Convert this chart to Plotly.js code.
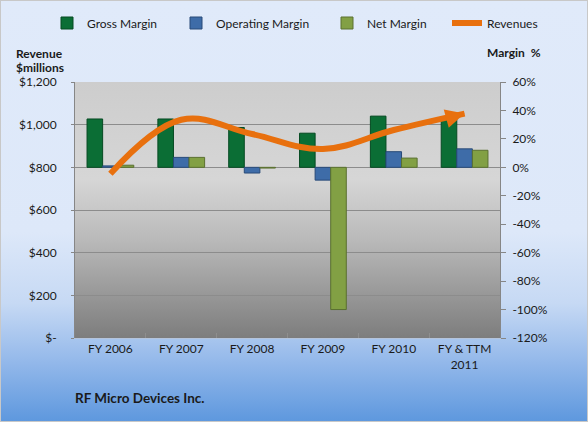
<!DOCTYPE html>
<html>
<head>
<meta charset="utf-8">
<script src="https://cdn.plot.ly/plotly-3.0.1.min.js"></script>
<style>
  html, body { margin: 0; padding: 0; }
  #chart {
    width: 588px; height: 422px; box-sizing: border-box;
    border: 1px solid #c8c8c8;
    background: linear-gradient(to bottom, #e0eafa 0%, #dde8f9 55%, #c6d9f4 72%, #93b8ea 86%, #5e98de 100%);
  }
</style>
</head>
<body>
<div id="chart"></div>
<script>
// ---- data ----
const categories = ["FY 2006", "FY 2007", "FY 2008", "FY 2009", "FY 2010", "FY & TTM<br>2011"];
const grossMargin = [34, 34, 28, 24, 36, 34];
const operatingMargin = [1, 7, -4, -9, 11, 13];
const netMargin = [1.5, 7, -0.5, -100, 6.5, 12];
const revenues = [770, 1023, 956, 886, 975, 1052];
const revenueTickVals = [0, 200, 400, 600, 800, 1000, 1200];
const revenueTickText = ["$-", "$200", "$400", "$600", "$800", "$1,000", "$1,200"];
const marginTickVals = [-120, -100, -80, -60, -40, -20, 0, 20, 40, 60];
const marginTickText = ["-120%", "-100%", "-80%", "-60%", "-40%", "-20%", "0%", "20%", "40%", "60%"];

const FONT = "Lato, 'Open Sans', sans-serif";
const TXT = '#1a1a1a';
const ORANGE = '#e8700e';

const plotBg = '<svg xmlns="http://www.w3.org/2000/svg" width="100" height="100" preserveAspectRatio="none">' +
  '<defs><linearGradient id="g" x1="0" y1="0" x2="0" y2="1">' +
  '<stop offset="0" stop-color="#cdcdcd"/><stop offset="0.38" stop-color="#d6d6d6"/>' +
  '<stop offset="0.62" stop-color="#b9b9b9"/><stop offset="1" stop-color="#7d7d7d"/>' +
  '</linearGradient></defs><rect width="100" height="100" fill="url(#g)"/></svg>';

const n = revenues.length;
const traces = [
  { type: 'bar', name: 'Gross Margin', legend: 'legend', x: categories, y: grossMargin, yaxis: 'y',
    marker: { color: '#0b6e35', line: { color: '#064a22', width: 1 } } },
  { type: 'bar', name: 'Operating Margin', legend: 'legend2', x: categories, y: operatingMargin, yaxis: 'y',
    marker: { color: '#3e6ca8', line: { color: '#284a78', width: 1 } } },
  { type: 'bar', name: 'Net Margin', legend: 'legend3', x: categories, y: netMargin, yaxis: 'y',
    marker: { color: '#82a044', line: { color: '#5a7030', width: 1 } } },
  { type: 'scatter', name: 'Revenues', legend: 'legend4', x: categories, y: revenues, yaxis: 'y2',
    mode: 'lines',
    line: { color: ORANGE, width: 6, shape: 'spline', smoothing: 1.1 } }
];

function leg(px) {
  return { orientation: 'h', xref: 'container', yref: 'container', x: px / 588, xanchor: 'left',
           y: 1 - 22 / 422, yanchor: 'middle', font: { family: FONT, size: 12, color: TXT },
           itemwidth: 30, bgcolor: 'rgba(0,0,0,0)', borderwidth: 0 };
}

const layout = {
  width: 588, height: 422,
  paper_bgcolor: 'rgba(0,0,0,0)',
  plot_bgcolor: 'rgba(0,0,0,0)',
  margin: { l: 74, r: 89, t: 81, b: 85, pad: 0 },
  font: { family: FONT, size: 12, color: TXT },
  barmode: 'group', bargap: 0.34, bargroupgap: 0,
  showlegend: true,
  legend: leg(46), legend2: leg(175), legend3: leg(326), legend4: leg(446),
  xaxis: { type: 'category', showgrid: false, showline: true, linecolor: '#b4c4dc',
           ticks: 'inside', tickson: 'boundaries', ticklen: 5, tickcolor: '#8e8e8e',
           tickfont: { family: FONT, size: 12, color: TXT }, automargin: false },
  yaxis: { side: 'right', range: [-120, 60], tickvals: marginTickVals, ticktext: marginTickText,
           showgrid: false, zeroline: false, showline: true, linecolor: '#868686',
           ticks: 'outside', ticklen: 5, tickcolor: '#868686', automargin: false, ticklabelstandoff: 4,
           tickfont: { family: FONT, size: 12, color: TXT } },
  yaxis2: { side: 'left', overlaying: 'y', range: [0, 1200], tickvals: revenueTickVals,
            ticktext: revenueTickText, showgrid: true, gridcolor: '#8c8c8c', gridwidth: 1,
            zeroline: false, showline: true, linecolor: '#868686', ticks: 'outside', ticklen: 3,
            tickcolor: '#868686', automargin: false, ticklabelstandoff: 12,
            tickfont: { family: FONT, size: 12, color: TXT } },
  images: [{ source: 'data:image/svg+xml;charset=utf-8,' + encodeURIComponent(plotBg),
             xref: 'paper', yref: 'paper', x: 0, y: 1, sizex: 1, sizey: 1,
             xanchor: 'left', yanchor: 'top', sizing: 'stretch', layer: 'below' }],
  annotations: [
    { text: '', xref: 'x', yref: 'y2', x: categories[n - 1], y: revenues[n - 1],
      showarrow: true, ax: -22, ay: 6, arrowhead: 2, arrowsize: 1.9, arrowwidth: 2,
      arrowcolor: ORANGE, standoff: 0 },
    { text: '<b>Revenue</b>', xref: 'paper', yref: 'paper',
      x: (13 - 74) / 425, y: (337 - 52.5) / 256, xanchor: 'left', yanchor: 'middle', align: 'left',
      showarrow: false, font: { family: FONT, size: 12, color: TXT } },
    { text: '<b>$millions</b>', xref: 'paper', yref: 'paper',
      x: (13 - 74) / 425, y: (337 - 66) / 256, xanchor: 'left', yanchor: 'middle', align: 'left',
      showarrow: false, font: { family: FONT, size: 12, color: TXT } },
    { text: '<b>Margin  %</b>', xref: 'paper', yref: 'paper',
      x: (484 - 74) / 425, y: (337 - 51) / 256, xanchor: 'left', yanchor: 'middle',
      showarrow: false, font: { family: FONT, size: 12, color: TXT } },
    { text: '<b>RF Micro Devices Inc.</b>', xref: 'paper', yref: 'paper',
      x: (72 - 74) / 425, y: (337 - 397) / 256, xanchor: 'left', yanchor: 'middle',
      showarrow: false, font: { family: FONT, size: 13.5, color: TXT } }
  ]
};

Plotly.newPlot('chart', traces, layout, { displayModeBar: false, staticPlot: true });
</script>
</body>
</html>
